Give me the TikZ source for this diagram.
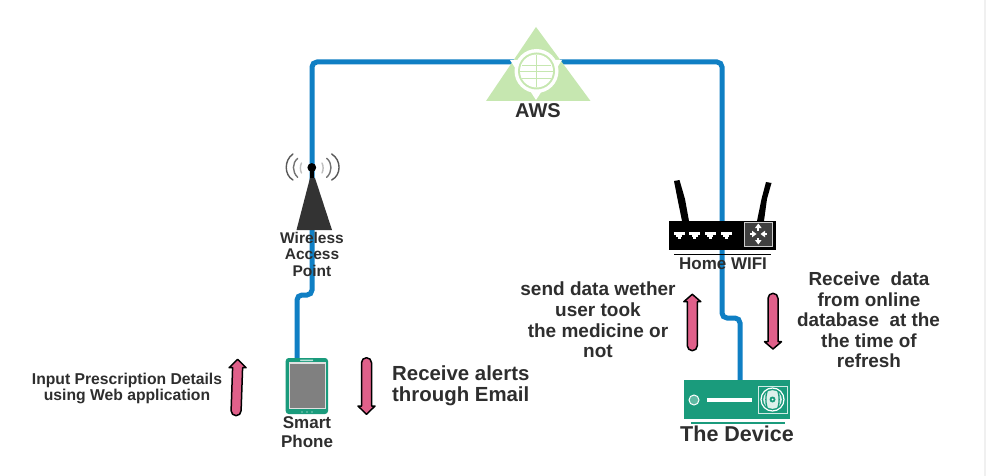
\documentclass[tikz,border=0pt]{standalone}
\usepackage{fontspec}
\setmainfont{Liberation Sans}
\definecolor{wire}{HTML}{0F7FC4}
\definecolor{awsgreen}{HTML}{C6E7B0}
\definecolor{teal1}{HTML}{1A9B7C}
\definecolor{pinkfill}{HTML}{E0608A}
\definecolor{tx}{HTML}{2E2E2E}
\definecolor{tower}{HTML}{333333}
\tikzset{
  wirepath/.style={draw=wire,line width=5pt,rounded corners=5pt},
  lab/.style={text=tx,font=\bfseries\fontsize{#1}{#1}\selectfont,inner sep=0pt,align=center},
  pinkshape/.style={fill=pinkfill,draw=black,line width=1.5pt,line join=round},
  waves/.style={line width=1.4pt,draw=#1,line cap=round},
  anchorpt/.style={inner sep=0pt,minimum size=0pt}
}
% up arrow: x of tip, tip y, head base y, bottom y, drift of the shaft
\newcommand{\pinkup}[5]{%
  \path[pinkshape] ({#1},{#2}) -- ({#1+8.5},{#3}) -- ({#1+5},{#3})
   -- ({#1+5+#5},{#4-5}) arc[start angle=0,end angle=180,x radius=5,y radius=5]
   -- ({#1-5},{#3}) -- ({#1-8.5},{#3}) -- cycle;}
\newcommand{\pinkdown}[4]{%
  \path[pinkshape] ({#1},{#4}) -- ({#1+8.5},{#3}) -- ({#1+5},{#3})
   -- ({#1+5},{#2+5}) arc[start angle=0,end angle=-180,x radius=5,y radius=5]
   -- ({#1-5},{#3}) -- ({#1-8.5},{#3}) -- cycle;}
\begin{document}
\begin{tikzpicture}[x=1pt,y=-1pt]
\useasboundingbox (0,0) rectangle (986,476);
\fill[white] (0,0) rectangle (986,476);
\fill[black!6] (984,0) rectangle (986,476);
% anchors
\node[anchorpt] (aws) at (536,62) {};
\node[anchorpt] (wap) at (312,178) {};
\node[anchorpt] (phone) at (297,362) {};
\node[anchorpt] (router) at (722,235) {};
\node[anchorpt] (device) at (740,382) {};
% connectors
\path[wirepath] (aws.center) -- (312,62) -- (wap.center);
\path[wirepath] (aws.center) -- (722,62) -- (router.center);
\path[wirepath] (wap.center) -- (312,295) -- (297,295) -- (phone.center);
\path[wirepath] (router.center) -- (722,318) -- (740,318) -- (device.center);
% AWS icon
\fill[awsgreen] (536,27) -- (590.5,101) -- (486,101) -- cycle;
\fill[white] (510,60) -- (562,60) -- (536,100) -- cycle;
\fill[white] (536.5,71) circle (22);
\fill[awsgreen] (536.5,71) circle (18.5);
\fill[white] (536.5,71) circle (16.5);
\draw[awsgreen,line width=1.4pt] (536.5,55) -- (536.5,87);
\draw[awsgreen,line width=1pt] (520,71.5) -- (553,71.5) (522,65.5) -- (551,65.5) (522,79) -- (551,79);
\node[lab=20] (awslab) at (538,111) {AWS};
% Wireless access point
\fill[tower] (310,178) -- (315,178) -- (332,230) -- (296.5,230) -- cycle;
\fill[black] (310,168) rectangle (314,178);
\fill[black] (311.8,167.5) circle (4.4);
\draw[waves=black!65] (293,154) .. controls (284,160) and (284,175) .. (293,180);
\draw[waves=black!65] (331.7,154) .. controls (341.5,160) and (341.5,175) .. (331.7,180);
\draw[waves=black!55] (297.7,158.3) .. controls (292,163) and (292,172) .. (297.7,177.3);
\draw[waves=black!55] (326.7,158.3) .. controls (332.4,163) and (332.4,172) .. (326.7,177.3);
\draw[waves=black!25] (301.5,163) .. controls (300,166) and (300,170) .. (301.5,173);
\draw[waves=black!25] (322,163) .. controls (323.5,166) and (323.5,170) .. (322,173);
\node[lab=15.5] (waplab1) at (312,237.5) {Wireless};
\node[lab=15.5] (waplab2) at (312,254.5) {Access};
\node[lab=15.5] (waplab3) at (312,271) {Point};
% Router
\fill[black,line join=round] (674,181) -- (679.5,180) -- (685,199) -- (689,221) -- (682,221) -- (677.5,199) -- cycle;
\fill[black,line join=round] (766,182) -- (771.5,183) -- (767,199) -- (764,221) -- (757,221) -- (761.5,199) -- cycle;
\fill[black] (669,221) rectangle (776,250);
\fill[black!75] (744,222) rectangle (772.5,246);
\draw[white!80!black,line width=.8pt] (744,222) rectangle (772.5,246);
\foreach \px in {679,694.5,710,726}{
  \fill[white] (\px-5.5,232) rectangle (\px+5.5,235);
  \fill[white] (\px-3,235) rectangle (\px+3,237);
  \fill[white] (\px-1.5,237) rectangle (\px+1.5,238.5);
}
\draw[white,line width=1.8pt] (750,234) -- (755,234) (762,234) -- (767,234) (758.3,226) -- (758.3,230.5) (758.3,238) -- (758.3,242);
\fill[white] (755,228) -- (761.6,228) -- (758.3,223.5) -- cycle;
\fill[white] (755,240) -- (761.6,240) -- (758.3,244.5) -- cycle;
\fill[white] (752,230.7) -- (752,237.3) -- (756.5,234) -- cycle;
\fill[white] (765,230.7) -- (765,237.3) -- (760.5,234) -- cycle;
\draw[black,line width=1.5pt] (674,254.5) -- (771,254.5);
\node[lab=17] (routerlab) at (723,264) {Home WIFI};
% Device
\fill[teal1] (684,380) rectangle (790,419);
\draw[white,line width=1pt,fill=teal1!70!white] (694,400) circle (5);
\fill[white] (707,397.5) rectangle (752,402);
\draw[white!80!teal1,line width=.8pt] (758,386) rectangle (787,413);
\draw[white,line width=1.2pt] (772.5,399.5) circle (11.5);
\fill[white!85!teal1] (772.5,399.5) circle (9.3);
\draw[teal1,line width=1.3pt] (767,391.5) .. controls (765.5,396) and (765.5,403) .. (767,407.5);
\draw[teal1,line width=1.3pt] (778,391.5) .. controls (779.5,396) and (779.5,403) .. (778,407.5);
\fill[teal1] (772.5,399.5) circle (3);
\fill[white] (772.5,399.5) circle (1);
\draw[teal1,line width=1.5pt] (691,423) -- (785,423);
\node[lab=21.5] (devlab) at (737,434) {The Device};
% Phone
\fill[teal1,rounded corners=3pt] (285.7,358) rectangle (328,414);
\fill[black!12] (288.5,362) rectangle (326,409);
\fill[black!50] (290,363.5) rectangle (324.5,407.5);
\fill[white!70!teal1,rounded corners=.5pt] (300,359.5) rectangle (313,361);
\foreach \dx in {302,307,312}{\fill[white] (\dx,412) circle (.6);}
\node[lab=17] (phlab1) at (307,423) {Smart};
\node[lab=17] (phlab2) at (307,441.5) {Phone};
% pink arrows
\pinkup{237.6}{359.3}{367.7}{415.7}{-1.5}
\pinkdown{366.5}{357.7}{406}{414.3}
\pinkup{692.3}{294.3}{301.7}{350.7}{0}
\pinkdown{773}{293.3}{341.7}{349}
% texts
\node[lab=15.7] (t1) at (127,380) {Input Prescription Details};
\node[lab=15.7] (t2) at (127,396) {using Web application};
\node[lab=20.4,anchor=west] (t3) at (392,373.5) {Receive alerts};
\node[lab=20.4,anchor=west] (t4) at (392,396) {through Email};
\node[lab=19] (t5) at (598,288.5) {send data wether};
\node[lab=19] (t6) at (598,309.5) {user took};
\node[lab=19] (t7) at (598,330.5) {the medicine or};
\node[lab=19] (t8) at (598,351) {not};
\node[lab=18.9] (t9) at (869,279) {Receive\ \ data};
\node[lab=18.9] (t10) at (869,299.5) {from online};
\node[lab=18.9] (t11) at (868.5,320) {database\ \ at the};
\node[lab=18.9] (t12) at (869,340.5) {the time of};
\node[lab=18.9] (t13) at (869,361) {refresh};
\end{tikzpicture}
\end{document}
